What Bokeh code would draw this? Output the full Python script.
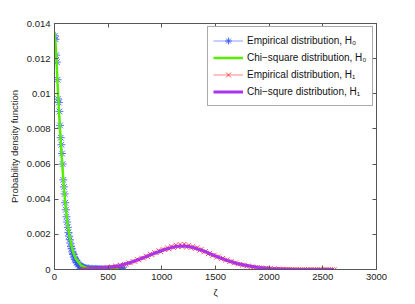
from bokeh.plotting import figure
from bokeh.models import Range1d, LinearAxis, FixedTicker, Legend, LegendItem
from bokeh.embed import file_html
from bokeh.resources import INLINE

# ---- data ----
h0_emp_x = [4, 10, 16, 22, 28, 34, 40, 46, 52, 58, 64, 70, 76, 82, 88, 94, 100, 106, 112, 118,
            124, 130, 136, 142, 148, 154, 160, 166, 172, 178, 184, 190, 196, 202, 208, 214, 220,
            226, 232, 238, 244, 250, 256, 262, 268, 274, 280, 290, 300, 310, 320, 330, 340, 350,
            360, 370, 380, 390, 400, 410, 420, 430, 440, 450, 460, 470, 480, 490, 500, 510, 520,
            530, 540, 550, 560, 570, 580, 590, 600, 610, 620, 630, 640, 650]
h0_emp_y = [0.0133, 0.0131, 0.0122, 0.0118, 0.0108, 0.0097, 0.0095, 0.0090, 0.0082, 0.0075,
            0.0071, 0.0066, 0.0060, 0.0051, 0.0047, 0.0043, 0.0038, 0.0034, 0.0030, 0.0027,
            0.0024, 0.0021, 0.0019, 0.0017, 0.0015, 0.0013, 0.0012, 0.0010, 0.0009, 0.00085,
            0.0007, 0.0006, 0.00055, 0.0005, 0.0004, 0.00038, 0.0003, 0.00028, 0.00022, 0.0002,
            0.00018, 0.00014, 0.00012, 0.0001, 0.00011, 0.00008, 0.00007, 0.00006, 0.00005,
            0.00004, 0.00006, 0.00003, 0.00002, 0.00004, 0.00002, 0.00001, 0.00003, 0.00001,
            0.00002, 0.0, 0.00001, 0.0, 0.00002, 0.0, 0.00001, 0.0, 0.00001, 0.0, 0.0, 0.00001,
            0.0, 0.0, 0.00001, 0.0, 0.0, 0.0, 0.00001, 0.0, 0.0, 0.0, 0.0, 0.0, 0.0, 0.0]

h0_chi_x = [0, 10, 20, 30, 40, 50, 60, 70, 80, 90, 100, 120, 140, 160, 180, 200, 250, 300,
            350, 400, 450, 500, 600]
h0_chi_y = [0.0135, 0.0128, 0.0117, 0.0104, 0.0092, 0.0081, 0.0071, 0.0062, 0.0053, 0.0045,
            0.0038, 0.0027, 0.0019, 0.0013, 0.00088, 0.0006, 0.00022, 0.00008, 0.00003,
            0.00001, 0.0, 0.0, 0.0]

h1_emp_x = [250, 270, 290, 310, 330, 350, 370, 390, 410, 430, 450, 470, 490, 510, 530, 550,
            570, 590, 610, 630, 650, 670, 690, 710, 730, 750, 770, 790, 810, 830, 850, 870,
            890, 910, 930, 950, 970, 990, 1010, 1030, 1050, 1070, 1090, 1110, 1130, 1150, 1170,
            1190, 1210, 1230, 1250, 1270, 1290, 1310, 1330, 1350, 1370, 1390, 1410, 1430, 1450,
            1470, 1490, 1510, 1530, 1550, 1570, 1590, 1610, 1630, 1650, 1670, 1690, 1710, 1730,
            1750, 1770, 1790, 1810, 1830, 1850, 1870, 1890, 1910, 1930, 1950, 1970, 1990, 2010,
            2030, 2050, 2070, 2090, 2110, 2130, 2150, 2170, 2190, 2210, 2230, 2250, 2270, 2290,
            2310, 2330, 2350, 2370, 2390, 2410, 2430, 2450, 2470, 2490, 2510, 2530, 2550, 2570,
            2590, 2610]
h1_emp_y = [0.00002, 0.0, 0.00003, 0.00001, 0.00004, 0.00002, 0.00005, 0.00003, 0.00006,
            0.00004, 0.00009, 0.00007, 0.00012, 0.00010, 0.00016, 0.00013, 0.00020, 0.00018,
            0.00026, 0.00022, 0.00030, 0.00029, 0.00039, 0.00036, 0.00047, 0.00045, 0.00058,
            0.00053, 0.00066, 0.00064, 0.00078, 0.00072, 0.00088, 0.00083, 0.00097, 0.00094,
            0.00108, 0.00101, 0.00115, 0.00112, 0.00125, 0.00116, 0.00132, 0.00124, 0.00140,
            0.00128, 0.00143, 0.00131, 0.00145, 0.00127, 0.00138, 0.00124, 0.00131, 0.00118,
            0.00125, 0.00108, 0.00116, 0.00099, 0.00104, 0.00088, 0.00094, 0.00079, 0.00083,
            0.00070, 0.00074, 0.00060, 0.00065, 0.00052, 0.00056, 0.00044, 0.00047, 0.00036,
            0.00039, 0.00030, 0.00031, 0.00024, 0.00026, 0.00019, 0.00021, 0.00015, 0.00016,
            0.00011, 0.00013, 0.00009, 0.00010, 0.00006, 0.00008, 0.00005, 0.00006, 0.00003,
            0.00005, 0.00002, 0.00004, 0.00002, 0.00003, 0.00001, 0.00002, 0.00001, 0.00002,
            0.0, 0.00001, 0.0, 0.00001, 0.0, 0.00001, 0.0, 0.0, 0.00001, 0.0, 0.0, 0.00001,
            0.0, 0.0, 0.0, 0.00001, 0.0, 0.0, 0.0, 0.0]

h1_chi_x = [250, 300, 400, 500, 600, 700, 800, 900, 1000, 1100, 1150, 1200, 1250, 1300, 1400,
            1500, 1600, 1700, 1800, 1900, 2000, 2100, 2200, 2300, 2400, 2600]
h1_chi_y = [0.0, 0.00001, 0.00004, 0.00011, 0.00022, 0.00038, 0.00060, 0.00085, 0.00108,
            0.00127, 0.00133, 0.00134, 0.00131, 0.00124, 0.00103, 0.00076, 0.00053, 0.00034,
            0.00021, 0.00012, 0.00006, 0.00003, 0.00001, 0.000005, 0.0, 0.0]

x_ticks = [0, 500, 1000, 1500, 2000, 2500, 3000]
y_ticks = [0, 0.002, 0.004, 0.006, 0.008, 0.01, 0.012, 0.014]
y_tick_labels = ["0", "0.002", "0.004", "0.006", "0.008", "0.01", "0.012", "0.014"]

labels = ["Empirical distribution, H\u2080", "Chi\u2212square distribution, H\u2080",
          "Empirical distribution, H\u2081", "Chi\u2212squre distribution, H\u2081"]

FONT = "Liberation Sans"
AX = "#555555"
FS = "9.5px"

p = figure(width=415, height=304, output_backend="svg", toolbar_location=None,
           x_range=Range1d(0, 3000), y_range=Range1d(0, 0.014),
           min_border_left=54, min_border_right=39, min_border_top=23, min_border_bottom=35)
p.background_fill_color = "white"
p.border_fill_color = "white"
p.grid.visible = False
p.outline_line_color = AX
p.outline_line_width = 1

p.xaxis.ticker = FixedTicker(ticks=x_ticks)
p.yaxis.ticker = FixedTicker(ticks=y_ticks)
p.yaxis.major_label_overrides = {v: s for v, s in zip(y_ticks, y_tick_labels)}
p.xaxis.axis_label = "\u03b6"
p.yaxis.axis_label = "Probability density function"

for ax in p.xaxis + p.yaxis:
    ax.axis_line_color = AX
    ax.major_tick_line_color = AX
    ax.major_tick_in = 4
    ax.major_tick_out = 0
    ax.minor_tick_line_color = None
    ax.major_label_text_font = FONT
    ax.major_label_text_font_size = FS
    ax.major_label_text_color = "#222222"
    ax.axis_label_text_font = FONT
    ax.axis_label_text_font_size = FS
    ax.axis_label_text_font_style = "normal"
    ax.axis_label_text_color = "#222222"
    ax.major_label_standoff = 4
    ax.axis_label_standoff = 4

for side, ticks in (("right", y_ticks), ("above", x_ticks)):
    a = LinearAxis(ticker=FixedTicker(ticks=ticks))
    a.axis_line_color = AX
    a.major_tick_line_color = AX
    a.major_tick_in = 4
    a.major_tick_out = 0
    a.minor_tick_line_color = None
    a.major_label_overrides = {v: "" for v in ticks}
    a.major_label_standoff = 0
    p.add_layout(a, side)

BLUE = "#3355ff"
GREEN = "#55ee00"
RED = "#ff2a2a"
PURPLE = "#aa33ee"

b_line = p.line(h0_emp_x, h0_emp_y, line_color=BLUE, line_width=0.7, line_alpha=0.8)
b_pts = p.scatter(h0_emp_x, h0_emp_y, marker="asterisk", size=8, line_color=BLUE,
                  line_width=1, line_alpha=0.85)
g_line = p.line(h0_chi_x, h0_chi_y, line_color=GREEN, line_width=2.5)
r_line = p.line(h1_emp_x, h1_emp_y, line_color=RED, line_width=0.7, line_alpha=0.8)
r_pts = p.scatter(h1_emp_x, h1_emp_y, marker="x", size=6, line_color=RED,
                  line_width=1, line_alpha=0.85)
pu_line = p.line(h1_chi_x, h1_chi_y, line_color=PURPLE, line_width=3)

legend = Legend(items=[
    LegendItem(label=labels[0], renderers=[b_line, b_pts]),
    LegendItem(label=labels[1], renderers=[g_line]),
    LegendItem(label=labels[2], renderers=[r_line, r_pts]),
    LegendItem(label=labels[3], renderers=[pu_line]),
], location=(153, 163))
legend.label_text_font = FONT
legend.label_text_font_size = "10px"
legend.label_text_color = "#111111"
legend.glyph_width = 30
legend.glyph_height = 17
legend.label_height = 17
legend.label_standoff = 4
legend.spacing = 0
legend.padding = 5
legend.margin = 0
legend.border_line_color = AX
legend.border_line_width = 1
legend.background_fill_alpha = 1
p.add_layout(legend, "center")

open("out.html", "w").write(file_html(p, INLINE))
